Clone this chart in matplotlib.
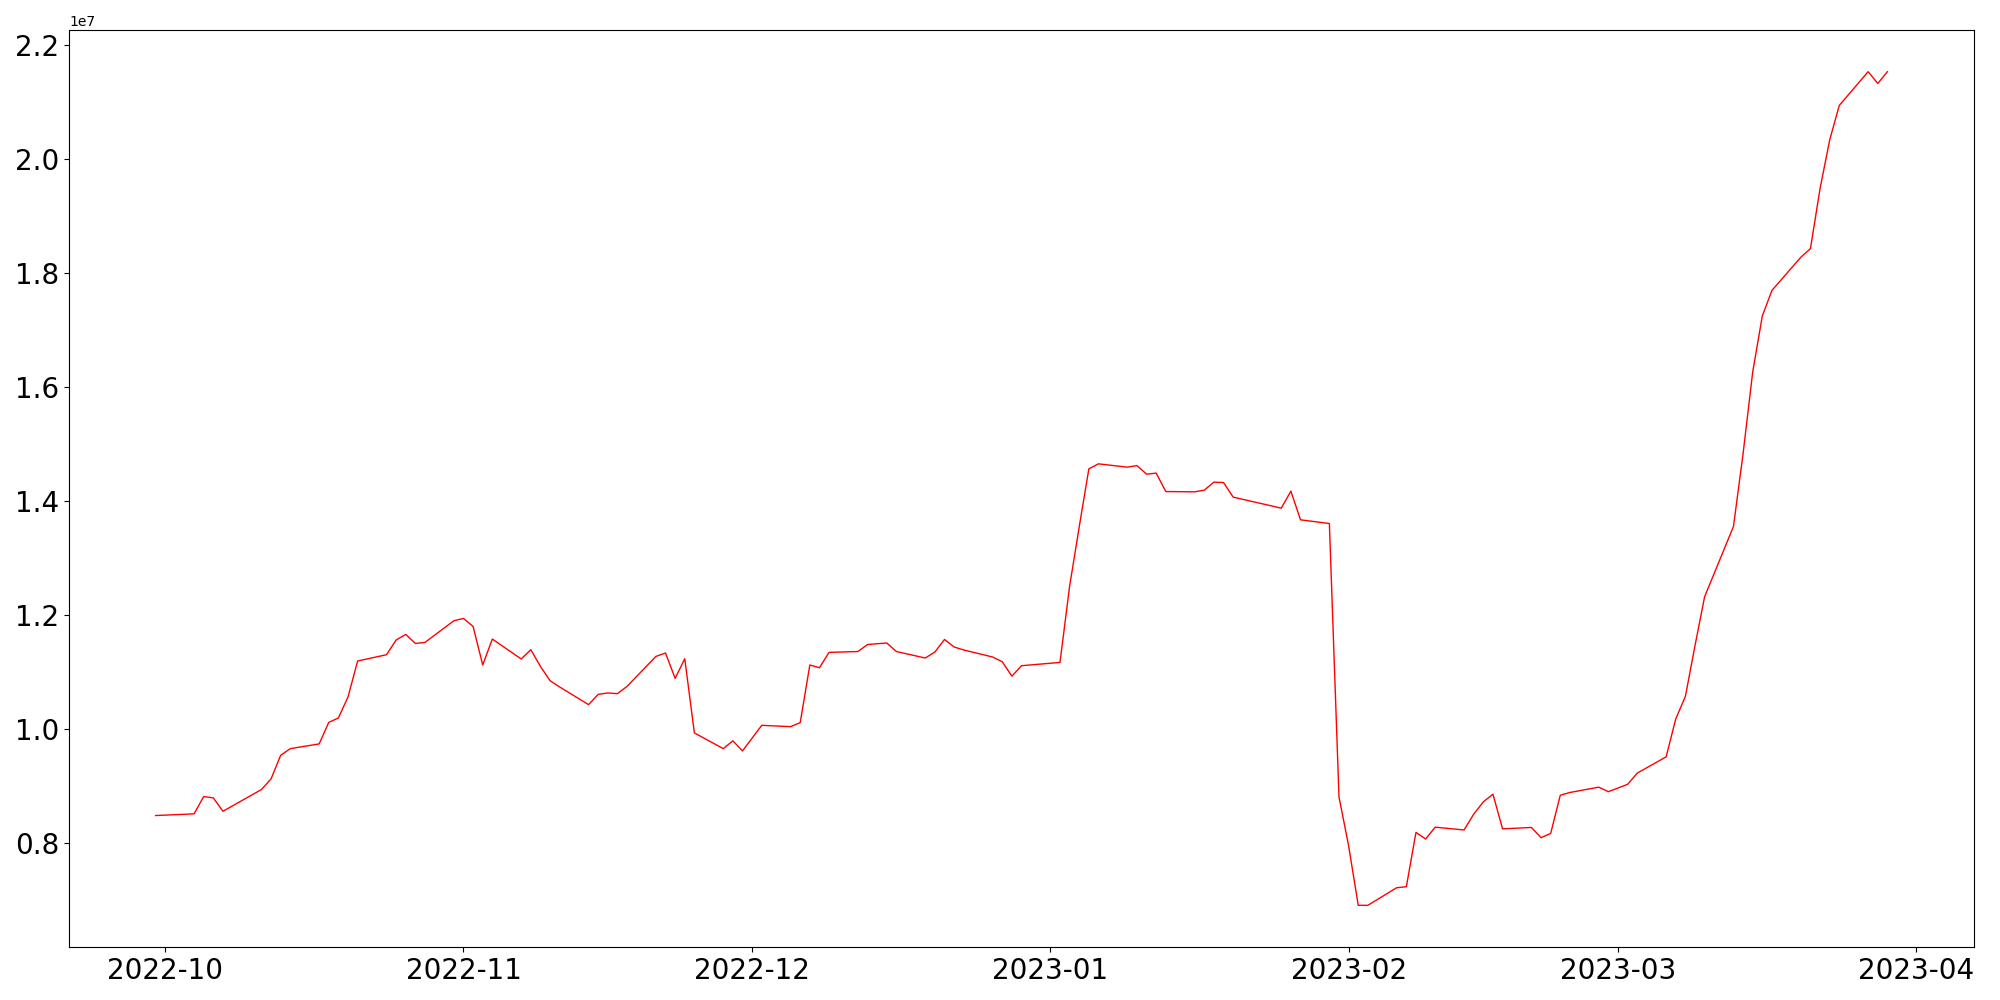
import matplotlib
matplotlib.use('Agg')
import matplotlib.pyplot as plt
import pandas as pd

# trading days (KRX calendar) and closing values
dates = [
    '2022-09-30',
    '2022-10-04', '2022-10-05', '2022-10-06', '2022-10-07', '2022-10-11',
    '2022-10-12', '2022-10-13', '2022-10-14', '2022-10-17', '2022-10-18',
    '2022-10-19', '2022-10-20', '2022-10-21', '2022-10-24', '2022-10-25',
    '2022-10-26', '2022-10-27', '2022-10-28', '2022-10-31',
    '2022-11-01', '2022-11-02', '2022-11-03', '2022-11-04', '2022-11-07',
    '2022-11-08', '2022-11-09', '2022-11-10', '2022-11-11', '2022-11-14',
    '2022-11-15', '2022-11-16', '2022-11-17', '2022-11-18', '2022-11-21',
    '2022-11-22', '2022-11-23', '2022-11-24', '2022-11-25', '2022-11-28',
    '2022-11-29', '2022-11-30',
    '2022-12-01', '2022-12-02', '2022-12-05', '2022-12-06', '2022-12-07',
    '2022-12-08', '2022-12-09', '2022-12-12', '2022-12-13', '2022-12-14',
    '2022-12-15', '2022-12-16', '2022-12-19', '2022-12-20', '2022-12-21',
    '2022-12-22', '2022-12-23', '2022-12-26', '2022-12-27', '2022-12-28',
    '2022-12-29',
    '2023-01-02', '2023-01-03', '2023-01-04', '2023-01-05', '2023-01-06',
    '2023-01-09', '2023-01-10', '2023-01-11', '2023-01-12', '2023-01-13',
    '2023-01-16', '2023-01-17', '2023-01-18', '2023-01-19', '2023-01-20',
    '2023-01-25', '2023-01-26', '2023-01-27', '2023-01-30', '2023-01-31',
    '2023-02-01', '2023-02-02', '2023-02-03', '2023-02-06', '2023-02-07',
    '2023-02-08', '2023-02-09', '2023-02-10', '2023-02-13', '2023-02-14',
    '2023-02-15', '2023-02-16', '2023-02-17', '2023-02-20', '2023-02-21',
    '2023-02-22', '2023-02-23', '2023-02-24', '2023-02-27', '2023-02-28',
    '2023-03-02', '2023-03-03', '2023-03-06', '2023-03-07', '2023-03-08',
    '2023-03-09', '2023-03-10', '2023-03-13', '2023-03-14', '2023-03-15',
    '2023-03-16', '2023-03-17', '2023-03-20', '2023-03-21', '2023-03-22',
    '2023-03-23', '2023-03-24', '2023-03-27', '2023-03-28', '2023-03-29',
]

values = [
    8473000,
    8503000, 8806000, 8783000, 8548000, 8929000,
    9116000, 9530000, 9647000, 9730000, 10108000,
    10185000, 10554000, 11185000, 11295000, 11553000,
    11651000, 11493000, 11511000, 11891000,
    11932000, 11791000, 11115000, 11570000, 11220000,
    11383000, 11090000, 10839000, 10729000, 10419000,
    10599000, 10624000, 10612000, 10739000, 11265000,
    11325000, 10880000, 11225000, 9923000, 9647000,
    9784000, 9607000,
    9831000, 10056000, 10033000, 10103000, 11115000,
    11067000, 11336000, 11351000, 11474000, 11488000,
    11500000, 11351000, 11237000, 11343000, 11563000,
    11430000, 11378000, 11255000, 11172000, 10918000,
    11102000,
    11160000, 12496000, 13539000, 14556000, 14644000,
    14586000, 14614000, 14463000, 14481000, 14158000,
    14153000, 14183000, 14323000, 14316000, 14060000,
    13867000, 14165000, 13662000, 13597000, 8797000,
    7943000, 6898000, 6898000, 7207000, 7224000,
    8178000, 8061000, 8269000, 8220000, 8497000,
    8713000, 8848000, 8240000, 8264000, 8085000,
    8159000, 8829000, 8878000, 8971000, 8892000,
    9021000, 9218000, 9503000, 10168000, 10562000,
    11453000, 12312000, 13545000, 14824000, 16257000,
    17240000, 17687000, 18269000, 18420000, 19475000,
    20326000, 20934000, 21525000, 21318000, 21525000,
]

df = pd.DataFrame({'date': pd.to_datetime(dates), 'value': values})

fig = plt.figure(figsize=(20, 10), dpi=100)
plt.plot(df['date'], df['value'], color='red', linewidth=1)
plt.xticks(fontsize=20)
plt.yticks(fontsize=20)
plt.subplots_adjust(left=0.0345, right=0.987, bottom=0.053, top=0.97)
plt.savefig('out.png', dpi=100)
